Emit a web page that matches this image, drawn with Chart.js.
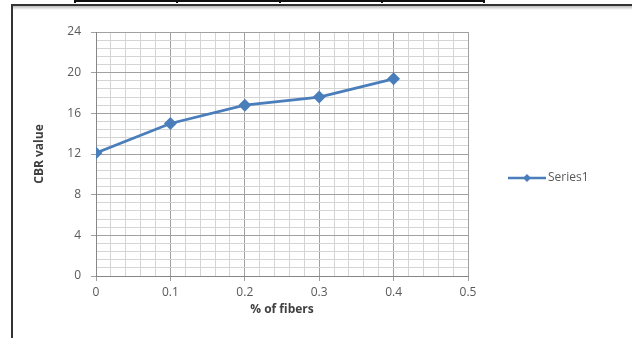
<!DOCTYPE html>
<html>
<head>
<meta charset="utf-8">
<script src="https://cdn.jsdelivr.net/npm/chart.js@4.4.1/dist/chart.umd.min.js"></script>
<style>
  body { margin: 0; background: #fff; }
  #wrap { position: relative; width: 632px; height: 338px; overflow: hidden; }
  #c { position: absolute; left: 0; top: 0; }
  .bl { position: absolute; background: #111; }
</style>
</head>
<body>
<div id="wrap">
  <!-- table cell edges above the figure -->
  <div class="bl" style="left:74px;top:0;width:410px;height:2px"></div>
  <div class="bl" style="left:74px;top:0;width:2px;height:3px"></div>
  <div class="bl" style="left:176px;top:0;width:2px;height:3px"></div>
  <div class="bl" style="left:279px;top:0;width:2px;height:3px"></div>
  <div class="bl" style="left:381px;top:0;width:2px;height:3px"></div>
  <div class="bl" style="left:483px;top:0;width:2px;height:3px"></div>
  <!-- figure frame -->
  <div class="bl" style="left:11px;top:4px;width:621px;height:2px;background:#333"></div>
  <div class="bl" style="left:11px;top:4px;width:2px;height:334px;background:#333"></div>
  <div class="bl" style="left:13px;top:6px;width:619px;height:4px;background:linear-gradient(#bbb,#fff)"></div>
  <canvas id="c" width="632" height="338"></canvas>
</div>
<script>
var fiberPct = [0, 0.1, 0.2, 0.3, 0.4];
var cbrValues = [12.1, 15.0, 16.8, 17.6, 19.4];
var seriesName = 'Series1';
var lineColor = '#4A7EBB';

function isMult(v, m) { return Math.abs(v / m - Math.round(v / m)) < 1e-6; }

var legendPlugin = {
  id: 'sideLegend',
  afterDraw: function (chart) {
    var ctx = chart.ctx, ds = chart.data.datasets[0];
    var x = 508, y = 178;
    ctx.save();
    ctx.strokeStyle = ds.borderColor;
    ctx.lineWidth = 2.5;
    ctx.beginPath(); ctx.moveTo(x, y); ctx.lineTo(x + 38, y); ctx.stroke();
    ctx.fillStyle = ds.backgroundColor;
    ctx.beginPath();
    ctx.moveTo(x + 19, y - 4); ctx.lineTo(x + 23, y); ctx.lineTo(x + 19, y + 4); ctx.lineTo(x + 15, y);
    ctx.closePath(); ctx.fill();
    ctx.fillStyle = '#595959';
    ctx.font = '12px "Open Sans"';
    ctx.textBaseline = 'middle';
    ctx.fillText(ds.label, x + 40, y);
    ctx.restore();
  }
};

var gridColor = function (m) {
  return function (c) { return isMult(c.tick.value, m) ? '#a0a0a0' : '#d4d4d4'; };
};
var tickColor = function (m) {
  return function (c) { return isMult(c.tick.value, m) ? '#a0a0a0' : 'rgba(0,0,0,0)'; };
};

new Chart(document.getElementById('c').getContext('2d'), {
  type: 'line',
  data: {
    datasets: [{
      label: seriesName,
      data: fiberPct.map(function (x, i) { return { x: x, y: cbrValues[i] }; }),
      borderColor: lineColor,
      backgroundColor: lineColor,
      borderWidth: 2.8,
      pointStyle: 'rectRot',
      pointRadius: 4.5,
      tension: 0
    }]
  },
  options: {
    responsive: false,
    animation: false,
    layout: { padding: { left: 20, top: 32, right: 164, bottom: 0 } },
    plugins: { legend: { display: false }, tooltip: { enabled: false } },
    scales: {
      x: {
        type: 'linear', min: 0, max: 0.5,
        afterFit: function (s) { s.height = 62; },
        border: { color: '#868686' },
        grid: { color: gridColor(0.1), tickColor: tickColor(0.1), tickLength: 5 },
        ticks: {
          stepSize: 0.02, autoSkip: false, maxRotation: 0, padding: 4,
          color: '#595959', font: { family: 'Open Sans', size: 12 },
          callback: function (v) { return isMult(v, 0.1) ? String(Math.round(v * 10) / 10) : ''; }
        },
        title: {
          display: true, text: '% of fibers', color: '#404040',
          font: { family: 'Open Sans', size: 12, weight: 'bold' },
          padding: { top: 0, bottom: 21 }
        }
      },
      y: {
        min: 0, max: 24,
        afterFit: function (s) { s.width = 76; },
        border: { color: '#868686' },
        grid: { color: gridColor(4), tickColor: tickColor(4), tickLength: 5 },
        ticks: {
          stepSize: 0.8, autoSkip: false, padding: 10,
          color: '#595959', font: { family: 'Open Sans', size: 12 },
          callback: function (v) { return isMult(v, 4) ? String(Math.round(v)) : ''; }
        },
        title: {
          display: true, text: 'CBR value', color: '#404040',
          font: { family: 'Open Sans', size: 12, weight: 'bold' },
          padding: { top: 12, bottom: 0 }
        }
      }
    }
  },
  plugins: [legendPlugin]
});
</script>
</body>
</html>
